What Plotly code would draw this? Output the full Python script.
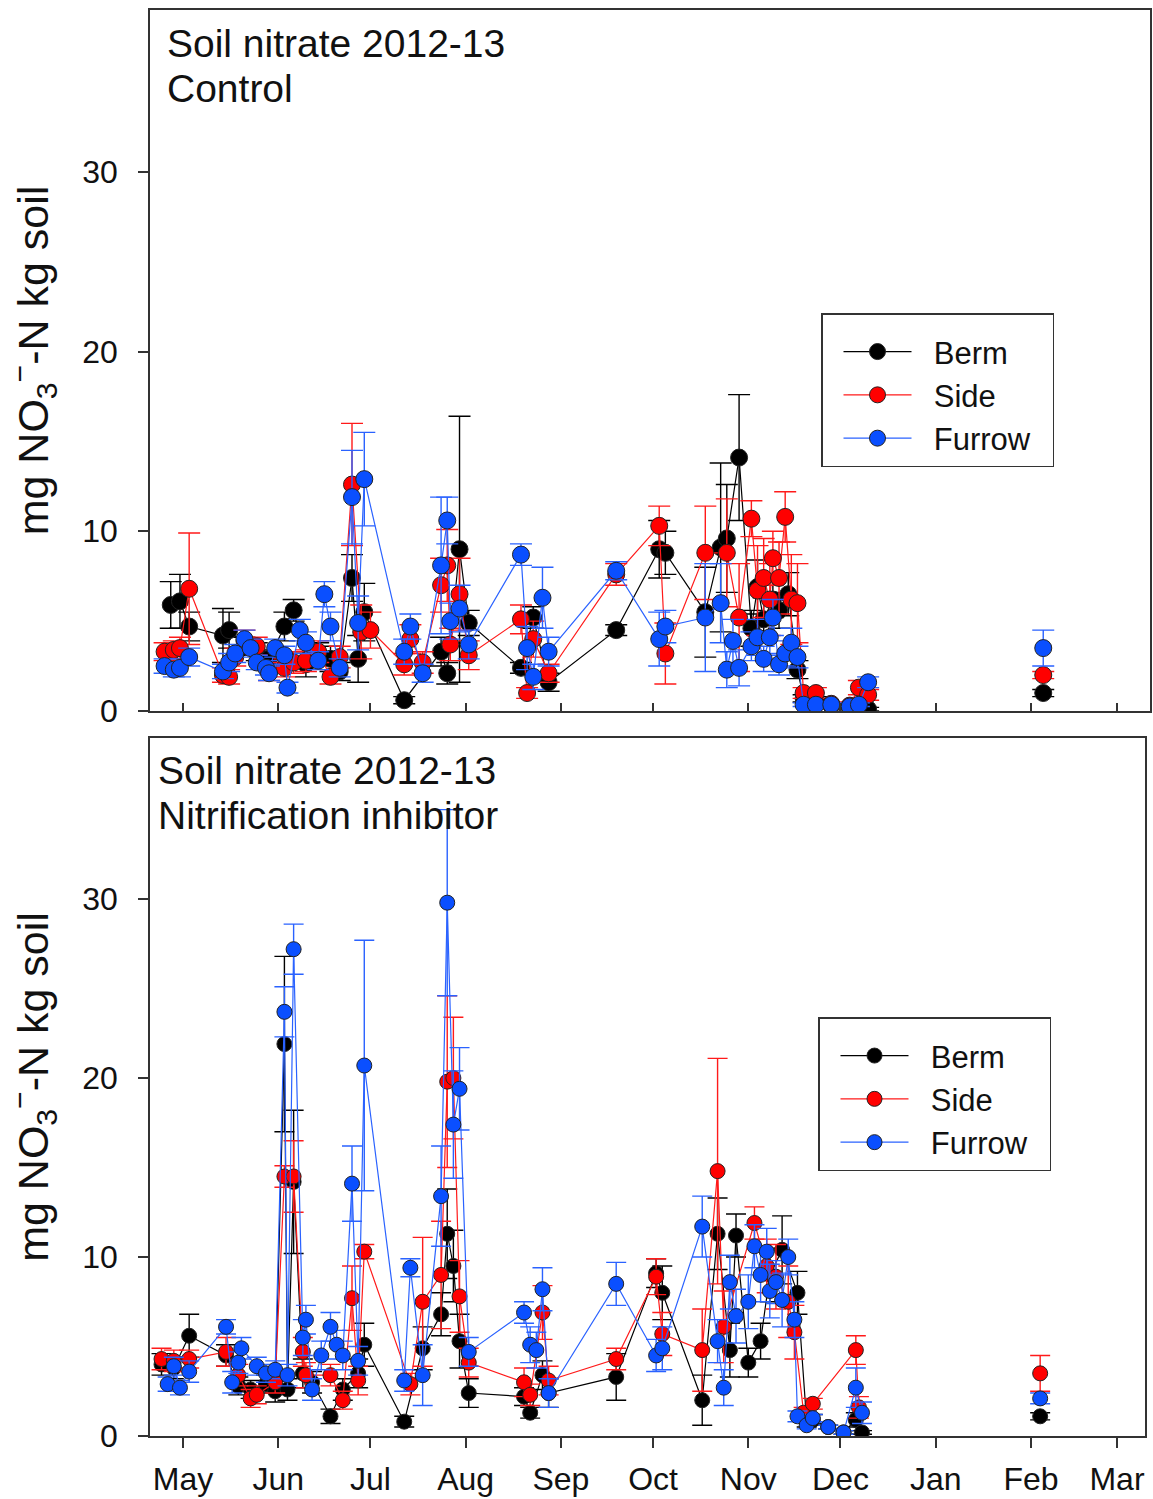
import plotly.graph_objects as go

# ---------------- Control (top panel) ----------------
c_berm_dates = ["2012-04-27", "2012-04-30", "2012-05-03", "2012-05-14", "2012-05-16", "2012-05-21", "2012-05-25",
                "2012-05-29", "2012-06-03", "2012-06-06", "2012-06-10", "2012-06-14", "2012-06-18", "2012-06-21",
                "2012-06-25", "2012-06-27", "2012-06-29", "2012-07-12", "2012-07-24", "2012-07-26", "2012-07-30",
                "2012-08-02", "2012-08-19", "2012-08-23", "2012-08-28", "2012-09-19", "2012-10-03", "2012-10-05",
                "2012-10-18", "2012-10-23", "2012-10-25", "2012-10-29", "2012-11-02", "2012-11-04", "2012-11-06",
                "2012-11-09", "2012-11-11", "2012-11-14", "2012-11-17", "2012-11-19", "2012-11-23", "2012-11-28",
                "2012-12-04", "2012-12-07", "2012-12-10", "2013-02-05"]
c_berm_vals = [5.9, 6.1, 4.7, 4.2, 4.5, 3.6, 3.3, 2.9, 4.7, 5.6, 2.6, 3.2, 2.9, 2.2, 7.4, 2.9, 5.5, 0.6, 3.3, 2.1,
               9.0, 4.9, 2.4, 5.2, 1.6, 4.5, 9.0, 8.8, 5.5, 9.1, 9.6, 14.1, 4.6, 6.9, 5.1, 6.2, 5.6, 6.5, 2.3, 0.7,
               0.6, 0.3, 0.2, 0.3, 0.1, 1.0]
c_berm_err = [1.3, 1.5, 0.8, 1.5, 1.0, 0.5, 0.5, 0.5, 0.8, 0.6, 0.7, 0.6, 0.7, 0.5, 1.3, 1.3, 1.6, 0.2, 0.8, 0.6,
              7.4, 0.7, 0.3, 0.6, 0.5, 0.3, 1.6, 1.2, 2.5, 4.7, 3.0, 3.5, 1.0, 1.5, 1.2, 1.0, 1.0, 1.2, 0.5, 0.2,
              0.2, 0.1, 0.1, 0.1, 0.1, 0.2]

c_side_dates = ["2012-04-25", "2012-04-28", "2012-04-30", "2012-05-03", "2012-05-14", "2012-05-16", "2012-05-18",
                "2012-05-21", "2012-05-25", "2012-05-29", "2012-06-03", "2012-06-06", "2012-06-10", "2012-06-14",
                "2012-06-18", "2012-06-21", "2012-06-25", "2012-06-28", "2012-07-01", "2012-07-12", "2012-07-14",
                "2012-07-18", "2012-07-24", "2012-07-26", "2012-07-27", "2012-07-30", "2012-08-02", "2012-08-19",
                "2012-08-21", "2012-08-23", "2012-08-28", "2012-09-19", "2012-10-03", "2012-10-05", "2012-10-18",
                "2012-10-25", "2012-10-29", "2012-11-02", "2012-11-04", "2012-11-06", "2012-11-08", "2012-11-09",
                "2012-11-11", "2012-11-13", "2012-11-15", "2012-11-17", "2012-11-19", "2012-11-23", "2012-11-28",
                "2012-12-04", "2012-12-07", "2012-12-10", "2013-02-05"]
c_side_vals = [3.3, 3.4, 3.5, 6.8, 2.0, 1.9, 3.0, 3.9, 3.6, 2.2, 2.4, 2.7, 2.8, 3.3, 1.9, 3.0, 12.6, 4.4, 4.5, 2.6,
               4.0, 2.7, 7.0, 8.1, 3.7, 6.5, 3.1, 5.1, 1.0, 4.0, 2.1, 7.6, 10.3, 3.2, 8.8, 8.8, 5.2, 10.7, 6.7, 7.4,
               6.2, 8.5, 7.4, 10.8, 6.2, 6.0, 1.0, 1.0, 0.4, 0.3, 1.3, 0.9, 2.0]
c_side_err = [0.5, 0.5, 0.6, 3.1, 0.4, 0.4, 0.5, 0.6, 0.5, 0.5, 0.5, 0.6, 0.6, 0.6, 0.4, 0.6, 3.4, 1.5, 1.0, 0.6,
              0.8, 0.6, 1.5, 2.0, 0.9, 2.0, 0.8, 0.8, 0.3, 1.0, 0.5, 0.6, 1.1, 1.7, 2.6, 3.0, 3.0, 1.0, 2.5, 2.2,
              2.0, 1.5, 2.0, 1.4, 2.5, 2.2, 0.3, 0.3, 0.1, 0.1, 0.4, 0.3, 0.2]

c_furrow_dates = ["2012-04-25", "2012-04-28", "2012-04-30", "2012-05-03", "2012-05-14", "2012-05-16", "2012-05-18",
                  "2012-05-21", "2012-05-23", "2012-05-25", "2012-05-28", "2012-05-29", "2012-05-31", "2012-06-03",
                  "2012-06-04", "2012-06-08", "2012-06-10", "2012-06-14", "2012-06-16", "2012-06-18", "2012-06-21",
                  "2012-06-25", "2012-06-27", "2012-06-29", "2012-07-12", "2012-07-14", "2012-07-18", "2012-07-24",
                  "2012-07-26", "2012-07-27", "2012-07-30", "2012-08-02", "2012-08-19", "2012-08-21", "2012-08-23",
                  "2012-08-26", "2012-08-28", "2012-09-19", "2012-10-03", "2012-10-05", "2012-10-18", "2012-10-23",
                  "2012-10-25", "2012-10-27", "2012-10-29", "2012-11-02", "2012-11-04", "2012-11-06", "2012-11-08",
                  "2012-11-09", "2012-11-11", "2012-11-13", "2012-11-15", "2012-11-17", "2012-11-19", "2012-11-23",
                  "2012-11-28", "2012-12-04", "2012-12-07", "2012-12-10", "2013-02-05"]
c_furrow_vals = [2.5, 2.3, 2.4, 3.0, 2.2, 2.7, 3.2, 4.0, 3.5, 2.7, 2.4, 2.1, 3.5, 3.1, 1.3, 4.5, 3.8, 2.8, 6.5, 4.7,
                 2.4, 11.9, 4.9, 12.9, 3.3, 4.7, 2.1, 8.1, 10.6, 5.0, 5.7, 3.7, 8.7, 3.5, 1.9, 6.3, 3.3, 7.8, 4.0,
                 4.7, 5.2, 6.0, 2.3, 3.9, 2.4, 3.6, 4.1, 2.9, 4.1, 5.2, 2.6, 3.2, 3.8, 3.0, 0.35, 0.35, 0.35, 0.25,
                 0.35, 1.6, 3.5]
c_furrow_err = [0.4, 0.4, 0.5, 0.5, 0.4, 0.5, 0.5, 0.5, 0.5, 0.4, 0.4, 0.4, 0.5, 0.5, 0.3, 0.6, 0.6, 0.5, 0.7, 0.8,
                0.5, 2.6, 1.5, 2.6, 0.7, 0.7, 0.5, 3.8, 1.3, 1.0, 1.3, 0.8, 0.6, 1.2, 0.7, 1.7, 0.8, 0.5, 1.5, 0.9,
                3.0, 2.2, 1.0, 1.2, 1.0, 0.8, 1.0, 0.7, 1.0, 1.0, 0.6, 0.7, 0.8, 0.6, 0.1, 0.1, 0.1, 0.1, 0.1, 0.3,
                1.0]

# ---------------- Nitrification inhibitor (bottom panel) ----------------
n_berm_dates = ["2012-04-24", "2012-04-28", "2012-05-03", "2012-05-15", "2012-05-19", "2012-05-23", "2012-05-28",
                "2012-05-31", "2012-06-03", "2012-06-04", "2012-06-06", "2012-06-09", "2012-06-12", "2012-06-18",
                "2012-06-22", "2012-06-27", "2012-06-29", "2012-07-12", "2012-07-18", "2012-07-24", "2012-07-26",
                "2012-07-28", "2012-07-30", "2012-08-02", "2012-08-20", "2012-08-22", "2012-08-26", "2012-08-28",
                "2012-09-19", "2012-10-02", "2012-10-04", "2012-10-17", "2012-10-22", "2012-10-26", "2012-10-28",
                "2012-11-01", "2012-11-05", "2012-11-08", "2012-11-12", "2012-11-17", "2012-11-20", "2012-11-22",
                "2012-11-27", "2012-12-02", "2012-12-06", "2012-12-08", "2013-02-04"]
n_berm_vals = [4.0, 3.8, 5.6, 4.5, 2.8, 2.6, 2.9, 2.5, 21.9, 2.6, 14.2, 3.5, 3.0, 1.1, 2.6, 3.5, 5.1, 0.8, 4.9, 6.8,
               11.3, 9.5, 5.3, 2.4, 2.2, 1.3, 3.4, 2.4, 3.3, 9.1, 8.0, 2.0, 11.3, 4.8, 11.2, 4.1, 5.3, 9.0, 10.4,
               8.0, 0.8, 0.9, 0.5, 0.2, 0.9, 0.2, 1.1]
n_berm_err = [0.6, 0.6, 1.2, 0.6, 0.5, 0.5, 0.5, 0.6, 4.9, 0.6, 4.0, 0.8, 0.6, 0.4, 0.6, 0.8, 1.2, 0.3, 1.2, 1.2, 2.5,
              2.0, 1.5, 0.8, 0.5, 0.3, 0.8, 0.8, 1.3, 0.8, 1.5, 1.4, 2.0, 1.5, 1.2, 0.8, 1.0, 1.5, 1.9, 1.2, 0.3,
              0.3, 0.1, 0.1, 0.4, 0.1, 0.2]

n_side_dates = ["2012-04-24", "2012-04-28", "2012-05-03", "2012-05-15", "2012-05-19", "2012-05-23", "2012-05-25",
                "2012-05-31", "2012-06-03", "2012-06-06", "2012-06-09", "2012-06-10", "2012-06-18", "2012-06-22",
                "2012-06-25", "2012-06-27", "2012-06-29", "2012-07-14", "2012-07-18", "2012-07-24", "2012-07-26",
                "2012-07-28", "2012-07-30", "2012-08-02", "2012-08-20", "2012-08-22", "2012-08-26", "2012-08-28",
                "2012-09-19", "2012-10-02", "2012-10-04", "2012-10-17", "2012-10-22", "2012-10-24", "2012-11-03",
                "2012-11-07", "2012-11-10", "2012-11-14", "2012-11-16", "2012-11-19", "2012-11-22", "2012-12-06",
                "2012-12-07", "2013-02-04"]
n_side_vals = [4.3, 4.2, 4.3, 4.7, 3.4, 2.1, 2.3, 3.0, 14.5, 14.5, 4.7, 3.4, 3.4, 2.0, 7.7, 3.1, 10.3, 2.9, 7.5, 9.0,
               19.8, 20.0, 7.8, 4.1, 3.0, 2.3, 6.9, 3.1, 4.3, 8.9, 5.7, 4.8, 14.8, 6.1, 11.9, 9.5, 8.9, 7.5, 5.8,
               1.3, 1.8, 4.8, 1.6, 3.5]
n_side_err = [0.6, 0.6, 0.5, 0.8, 0.6, 0.5, 0.5, 0.6, 0.6, 2.0, 0.8, 0.7, 0.6, 0.5, 1.8, 0.8, 0.4, 0.6, 3.6, 3.0, 4.8,
              3.4, 2.0, 0.8, 0.8, 0.6, 1.5, 0.8, 0.6, 1.0, 1.2, 2.3, 6.3, 2.0, 0.9, 1.5, 1.8, 2.0, 1.5, 0.3, 0.3,
              0.8, 0.6, 1.0]

n_furrow_dates = ["2012-04-26", "2012-04-28", "2012-04-30", "2012-05-03", "2012-05-15", "2012-05-17", "2012-05-19",
                  "2012-05-20", "2012-05-25", "2012-05-28", "2012-05-31", "2012-06-03", "2012-06-04", "2012-06-06",
                  "2012-06-09", "2012-06-10", "2012-06-12", "2012-06-15", "2012-06-18", "2012-06-20", "2012-06-22",
                  "2012-06-25", "2012-06-27", "2012-06-29", "2012-07-12", "2012-07-14", "2012-07-18", "2012-07-24",
                  "2012-07-26", "2012-07-28", "2012-07-30", "2012-08-02", "2012-08-20", "2012-08-22", "2012-08-24",
                  "2012-08-26", "2012-08-28", "2012-09-19", "2012-10-02", "2012-10-04", "2012-10-17", "2012-10-22",
                  "2012-10-24", "2012-10-26", "2012-10-28", "2012-11-01", "2012-11-03", "2012-11-05", "2012-11-07",
                  "2012-11-08", "2012-11-10", "2012-11-12", "2012-11-14", "2012-11-16", "2012-11-17", "2012-11-20",
                  "2012-11-22", "2012-11-27", "2012-12-02", "2012-12-06", "2012-12-08", "2013-02-04"]
n_furrow_vals = [2.9, 3.9, 2.7, 3.6, 6.1, 3.0, 4.1, 4.9, 3.9, 3.5, 3.7, 23.7, 3.4, 27.2, 5.5, 6.5, 2.6, 4.5, 6.1, 5.1,
                 4.5, 14.1, 4.2, 20.7, 3.1, 9.4, 3.4, 13.4, 29.8, 17.4, 19.4, 4.7, 6.9, 5.1, 4.8, 8.2, 2.4, 8.5, 4.5,
                 4.9, 11.7, 5.3, 2.7, 8.6, 6.7, 7.5, 10.6, 9.0, 10.3, 8.1, 8.6, 7.6, 10.0, 6.5, 1.1, 0.6, 1.0, 0.5,
                 0.2, 2.7, 1.3, 2.1]
n_furrow_err = [0.4, 0.5, 0.4, 0.6, 0.4, 0.6, 0.6, 0.6, 0.5, 0.5, 0.5, 1.4, 0.6, 1.4, 1.0, 0.8, 0.6, 0.8, 0.8, 0.8,
                0.8, 2.1, 0.8, 7.0, 0.6, 0.5, 1.7, 2.8, 5.2, 3.0, 2.3, 0.8, 0.6, 1.0, 1.0, 1.2, 0.8, 1.2, 0.9, 1.2,
                1.7, 1.2, 1.0, 1.5, 1.5, 1.5, 1.2, 1.5, 1.3, 1.5, 1.2, 1.5, 1.0, 1.0, 0.3, 0.2, 0.2, 0.1, 0.1, 1.1,
                0.6, 0.3]

month_ticks = ["2012-05-01", "2012-06-01", "2012-07-01", "2012-08-01", "2012-09-01", "2012-10-01",
               "2012-11-01", "2012-12-01", "2013-01-01", "2013-02-01", "2013-03-01"]
month_labels = ["May", "Jun", "Jul", "Aug", "Sep", "Oct", "Nov", "Dec", "Jan", "Feb", "Mar"]
y_ticks = [0, 10, 20, 30]
series_names = ["Berm", "Side", "Furrow"]

W, H = 1153, 1499
FONT = "Liberation Sans, Arial, sans-serif"
colors = {"Berm": ("#000000", "#000000"), "Side": ("#FF0000", "#FF1A1A"), "Furrow": ("#0A4FFF", "#2A62FF")}
NB = "\u00a0\u00a0"  # small gap between legend symbol and label

panels = [
    ("x", "y", "legend", 17, 11, [(c_berm_dates, c_berm_vals, c_berm_err),
                                  (c_side_dates, c_side_vals, c_side_err),
                                  (c_furrow_dates, c_furrow_vals, c_furrow_err)]),
    ("x2", "y2", "legend2", 15, 10, [(n_berm_dates, n_berm_vals, n_berm_err),
                                     (n_side_dates, n_side_vals, n_side_err),
                                     (n_furrow_dates, n_furrow_vals, n_furrow_err)]),
]

fig = go.Figure()
cutoff = "2013-01-01"
for xa, ya, leg, msize, capw, series in panels:
    for name, (dates, vals, errs) in zip(series_names, series):
        mcol, lcol = colors[name]
        idx_a = [i for i, d in enumerate(dates) if d < cutoff]
        idx_b = [i for i, d in enumerate(dates) if d >= cutoff]
        for part, mode, show in ((idx_a, "lines+markers", True), (idx_b, "markers", False)):
            if not part:
                continue
            fig.add_trace(go.Scatter(
                x=[dates[i] for i in part], y=[vals[i] for i in part],
                error_y=dict(type="data", array=[errs[i] for i in part], color=lcol, thickness=1.4, width=capw),
                mode=mode, name=NB + name + NB, showlegend=show, legend=leg, xaxis=xa, yaxis=ya,
                line=dict(color=lcol, width=1.2),
                marker=dict(color=mcol, size=msize, line=dict(color="#222222", width=1)),
            ))

axis_common = dict(showgrid=False, zeroline=False, showline=True, mirror=True, linecolor="#333333", linewidth=1.5,
                   tickcolor="#333333", tickwidth=1.5, automargin=False,
                   tickfont=dict(family=FONT, size=32, color="#111111"))
x_start = "2012-04-20 06:00"
ytitle = dict(text="mg NO<sub>3</sub><sup>−</sup>-N kg soil", font=dict(family=FONT, size=43, color="#111111"),
              standoff=20)
legend_common = dict(xanchor="left", yanchor="top", bordercolor="#333333", borderwidth=1.5, bgcolor="white",
                     font=dict(family=FONT, size=31, color="#111111"), itemwidth=68, indentation=16,
                     tracegroupgap=0, title=dict(text=" ", font=dict(family=FONT, size=8)))

title_font = dict(family=FONT, size=39, color="#111111")
annotations = []
for x0, lines in ((165, [("Soil nitrate 2012-13", 43), ("Control", 88)]),
                  (156, [("Soil nitrate 2012-13", 770), ("Nitrification inhibitor", 815)])):
    for txt, yc in lines:
        annotations.append(dict(text=txt, x=x0 / W, y=1 - yc / H, xref="paper", yref="paper", xanchor="left",
                                yanchor="middle", align="left", showarrow=False, font=title_font))

fig.update_layout(
    width=W, height=H, margin=dict(l=0, r=0, t=0, b=0, autoexpand=False),
    paper_bgcolor="white", plot_bgcolor="white",
    xaxis=dict(domain=[150 / W, 1150 / W], anchor="y", type="date", range=[x_start, "2013-03-11 18:00"],
               tickmode="array", tickvals=month_ticks, ticktext=month_labels, showticklabels=False,
               ticks="inside", ticklen=8, **axis_common),
    yaxis=dict(domain=[1 - 711 / H, 1 - 10 / H], anchor="x", range=[0, 39], tickmode="array", tickvals=y_ticks,
               ticks="outside", ticklen=10, ticklabelstandoff=14, title=ytitle, **axis_common),
    xaxis2=dict(domain=[150 / W, 1145 / W], anchor="y2", type="date", range=[x_start, "2013-03-10 03:00"],
                tickmode="array", tickvals=month_ticks, ticktext=month_labels,
                ticks="outside", ticklen=10, ticklabelstandoff=4, **axis_common),
    yaxis2=dict(domain=[1 - 1436 / H, 1 - 738 / H], anchor="x2", range=[0, 39], tickmode="array", tickvals=y_ticks,
                ticks="outside", ticklen=10, ticklabelstandoff=14, title=ytitle, **axis_common),
    legend=dict(x=821 / W, y=1 - 313 / H, **legend_common),
    legend2=dict(x=818 / W, y=1 - 1017 / H, **legend_common),
    annotations=annotations,
)

fig.write_html("out.html")
